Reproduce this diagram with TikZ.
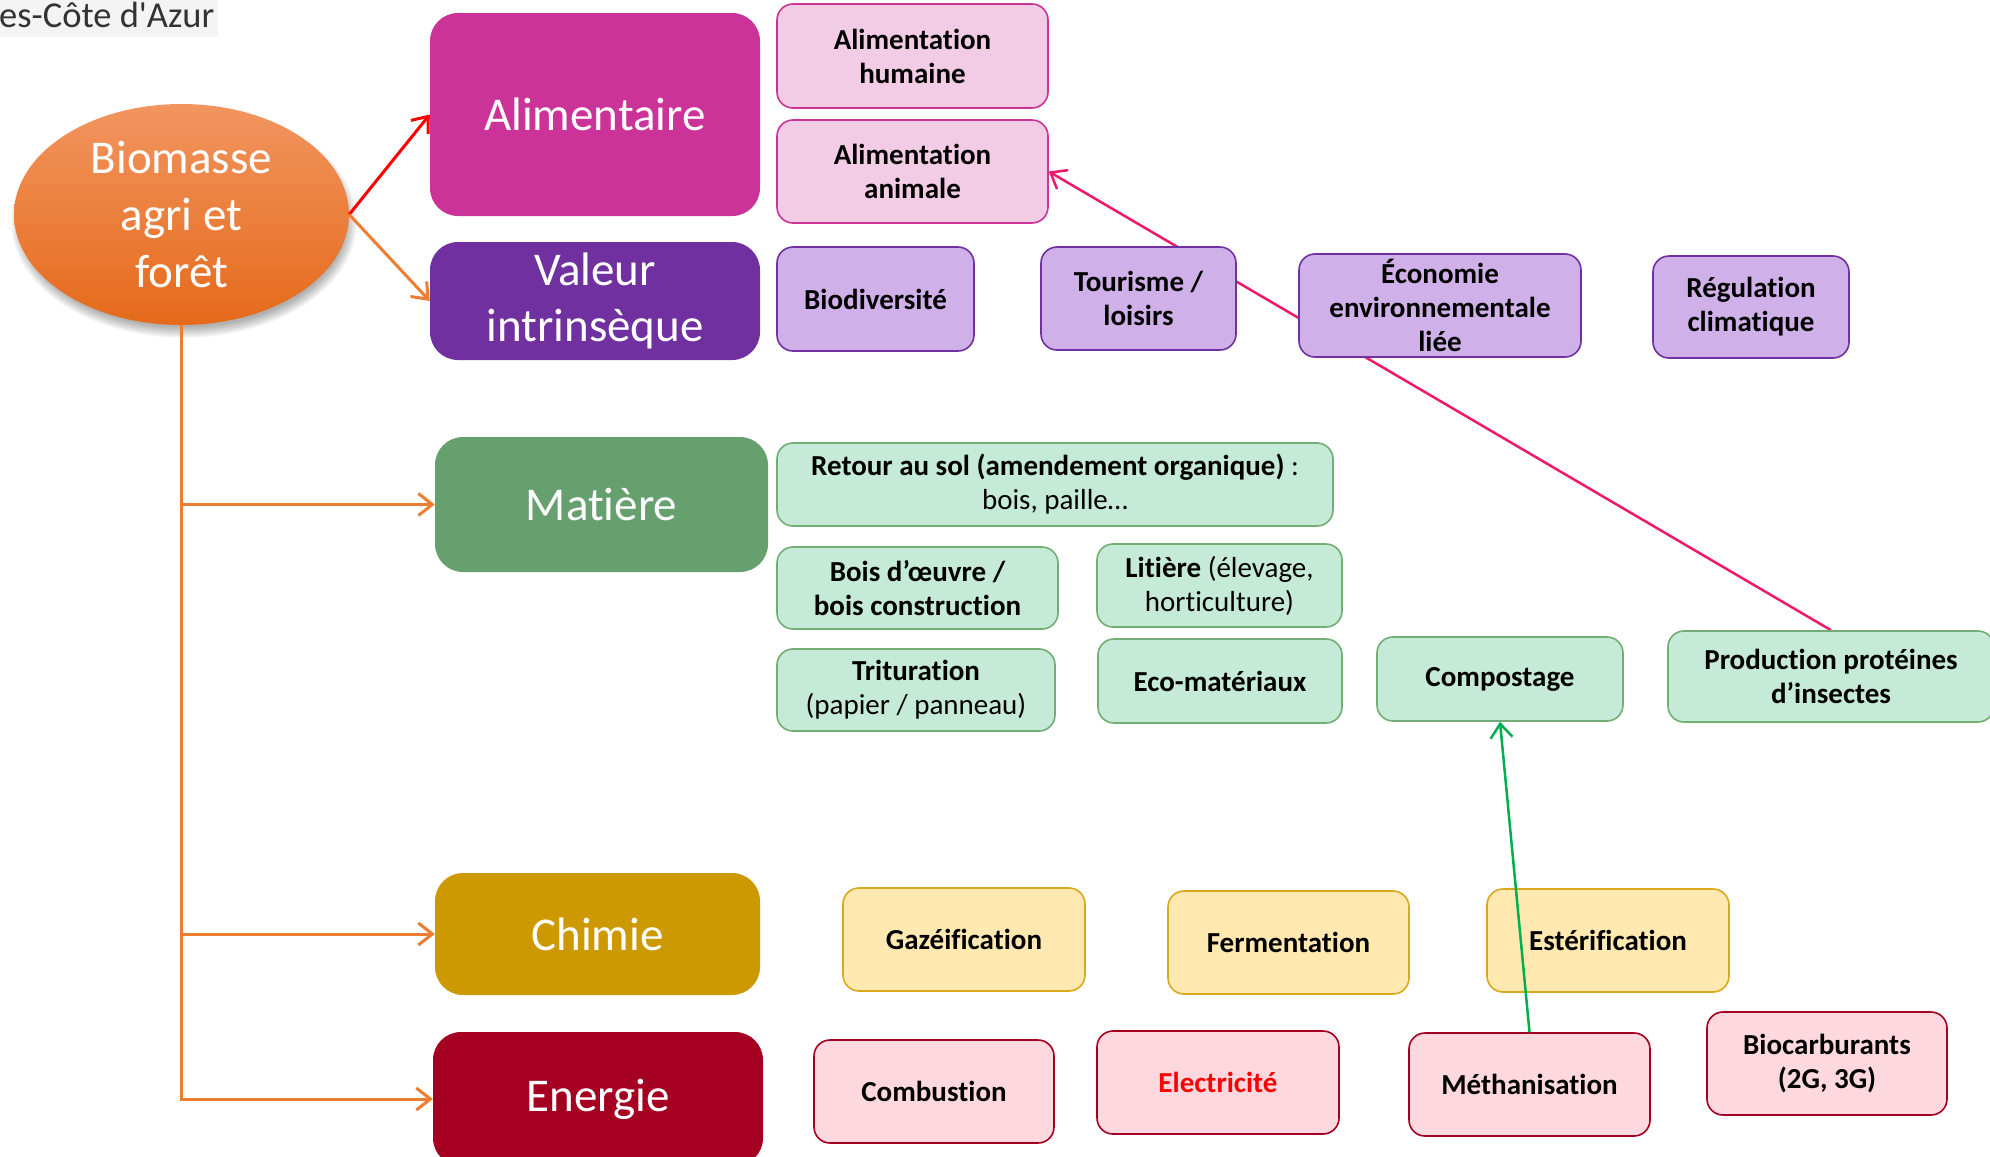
\documentclass[tikz,border=0pt]{standalone}
\usepackage{fontspec}
\setmainfont{Carlito}[RawFeature={-liga;-clig;-calt;-dlig}]
\usetikzlibrary{arrows.meta,shapes.geometric}
\pgfdeclarelayer{bg}
\pgfsetlayers{bg,main}
\definecolor{alimC}{HTML}{CC3399}
\definecolor{alimL}{HTML}{F2CCE5}
\definecolor{valC}{HTML}{7030A0}
\definecolor{valL}{HTML}{D0B0E8}
\definecolor{matC}{HTML}{66A06E}
\definecolor{matL}{HTML}{C6EAD8}
\definecolor{matB}{HTML}{72AE74}
\definecolor{chiC}{HTML}{CC9900}
\definecolor{chiL}{HTML}{FFE9B1}
\definecolor{chiB}{HTML}{D9A81C}
\definecolor{eneC}{HTML}{A50021}
\definecolor{eneL}{HTML}{FDD8DF}
\definecolor{arrO}{HTML}{ED7D31}
\definecolor{arrR}{HTML}{FF0000}
\definecolor{arrP}{HTML}{F0186A}
\definecolor{arrG}{HTML}{00B050}
\definecolor{ellT}{HTML}{F29560}
\definecolor{ellB}{HTML}{E56A1A}
\definecolor{hdrbg}{HTML}{F4F4F4}
\definecolor{hdrtx}{HTML}{333333}
\begin{document}
\begin{tikzpicture}[x=1pt,y=-1pt,
  mainbox/.style={rectangle, rounded corners=28pt, inner sep=0pt, text=white,
    font=\fontsize{47}{56}\selectfont, align=center},
  subbox/.style={rectangle, rounded corners=16pt, inner sep=0pt, line width=1.6pt,
    font=\bfseries\fontsize{29}{34}\selectfont, align=center, text=black},
  subA/.style={subbox, fill=alimL, draw=alimC},
  subV/.style={subbox, fill=valL, draw=valC},
  subM/.style={subbox, fill=matL, draw=matB},
  subC/.style={subbox, fill=chiL, draw=chiB},
  subE/.style={subbox, fill=eneL, draw=eneC},
  tip/.style={-{Straight Barb[length=14pt,width=22pt]}},
  conO/.style={tip, draw=arrO, line width=3pt},
  softshadow/.style={ellipse, inner sep=0pt, fill=black, draw=none, opacity=0.06},
]
\useasboundingbox (0,0) rectangle (1990,1157);
\clip (0,0) rectangle (1990,1157);

% header fragment
\node[anchor=north west, fill=hdrbg, minimum width=218pt, minimum height=37pt, inner sep=0pt] (hdrbox) at (0,0) {};
\node[anchor=base west, inner sep=0pt, text=hdrtx, font=\fontsize{36.5}{40}\selectfont] (hdr) at (-1,27) {es-Côte d\textquotesingle Azur};

% soft shadow of the root ellipse
\foreach \k in {0,...,5}{
  \node[softshadow, minimum width={345pt-4pt*\k}, minimum height={231pt-4pt*\k}] (sh\k) at (184,222) {};
}

% root ellipse
\node[ellipse, minimum width=335pt, minimum height=221pt, inner sep=0pt,
      top color=ellT, bottom color=ellB, draw=none,
      text=white, align=center, font=\fontsize{47}{57}\selectfont] (bio) at (181.5,214.5) {Biomasse\\agri et\\forêt};

% main categories
\node[mainbox, fill=alimC, minimum width=330pt, minimum height=203pt] (alim) at (595,114.5) {Alimentaire};
\node[mainbox, fill=valC, minimum width=330pt, minimum height=118pt] (val) at (595,301) {Valeur\\intrinsèque};
\node[mainbox, fill=matC, minimum width=333pt, minimum height=135pt] (mat) at (601.5,504.5) {Matière};
\node[mainbox, fill=chiC, minimum width=325pt, minimum height=122pt] (chi) at (597.5,934) {Chimie};
\node[mainbox, fill=eneC, minimum width=330pt, minimum height=134pt] (ene) at (598,1099) {Energie};

% alimentaire
\node[subA, minimum width=271pt, minimum height=104pt] (ah) at (912.5,56) {Alimentation\\humaine};
\node[subA, minimum width=271pt, minimum height=103pt] (aa) at (912.5,171.5) {Alimentation\\animale};

% valeur intrinseque
\node[subV, minimum width=197pt, minimum height=104pt] (biod) at (875.5,299) {Biodiversité};
\node[subV, minimum width=195pt, minimum height=103pt] (tour) at (1138.5,298.5) {Tourisme /\\loisirs};
\node[subV, minimum width=282pt, minimum height=103pt] (eco) at (1440,305.5) {Économie\\environnementale\\liée};
\node[subV, minimum width=196pt, minimum height=102pt] (reg) at (1751,307) {Régulation\\climatique};

% matiere
\node[subM, minimum width=556pt, minimum height=83pt] (ret) at (1055,484.5) {Retour au sol (amendement organique) \mdseries:\\\mdseries bois, paille…};
\node[subM, minimum width=281pt, minimum height=82pt] (bois) at (917.5,588) {Bois d’œuvre /\\bois construction};
\node[subM, minimum width=245pt, minimum height=83pt] (lit) at (1219.5,585.5) {Litière \mdseries(élevage,\\\mdseries horticulture)};
\node[subM, minimum width=278pt, minimum height=82pt] (trit) at (916,690) {Trituration\\\mdseries(papier / panneau)};
\node[subM, minimum width=244pt, minimum height=84pt] (ecom) at (1220,681) {Eco-matériaux};
\node[subM, minimum width=246pt, minimum height=84pt] (comp) at (1500,679) {Compostage};
\node[subM, minimum width=326pt, minimum height=91pt] (prod) at (1831,676.5) {Production protéines\\d’insectes};

% chimie
\node[subC, minimum width=242pt, minimum height=103pt] (gaz) at (964,939.5) {Gazéification};
\node[subC, minimum width=241pt, minimum height=103pt] (ferm) at (1288.5,942.5) {Fermentation};
\node[subC, minimum width=242pt, minimum height=103pt] (est) at (1608,940.5) {Estérification};

% energie
\node[subE, minimum width=240pt, minimum height=103pt] (comb) at (934,1091.5) {Combustion};
\node[subE, minimum width=242pt, minimum height=103pt, text=arrR] (elec) at (1218,1082.5) {Electricité};
\node[subE, minimum width=241pt, minimum height=103pt] (meth) at (1529.5,1084.5) {Méthanisation};
\node[subE, minimum width=240pt, minimum height=103pt] (bioc) at (1827,1063.5) {Biocarburants\\(2G, 3G)};

% connectors
\draw[tip, draw=arrR, line width=3pt] (bio.east) -- (alim.west);
\draw[conO] (bio.east) -- (val.west);
\draw[conO] (bio.south) |- (mat.west);
\draw[conO] (bio.south) |- (chi.west);
\draw[conO] (bio.south) |- (ene.west);

\begin{pgfonlayer}{bg}
\draw[tip, draw=arrP, line width=2.5pt] (prod.north) -- (aa.east);
\end{pgfonlayer}
\draw[tip, draw=arrG, line width=2.5pt] (meth.north) -- (comp.south);
\end{tikzpicture}
\end{document}
